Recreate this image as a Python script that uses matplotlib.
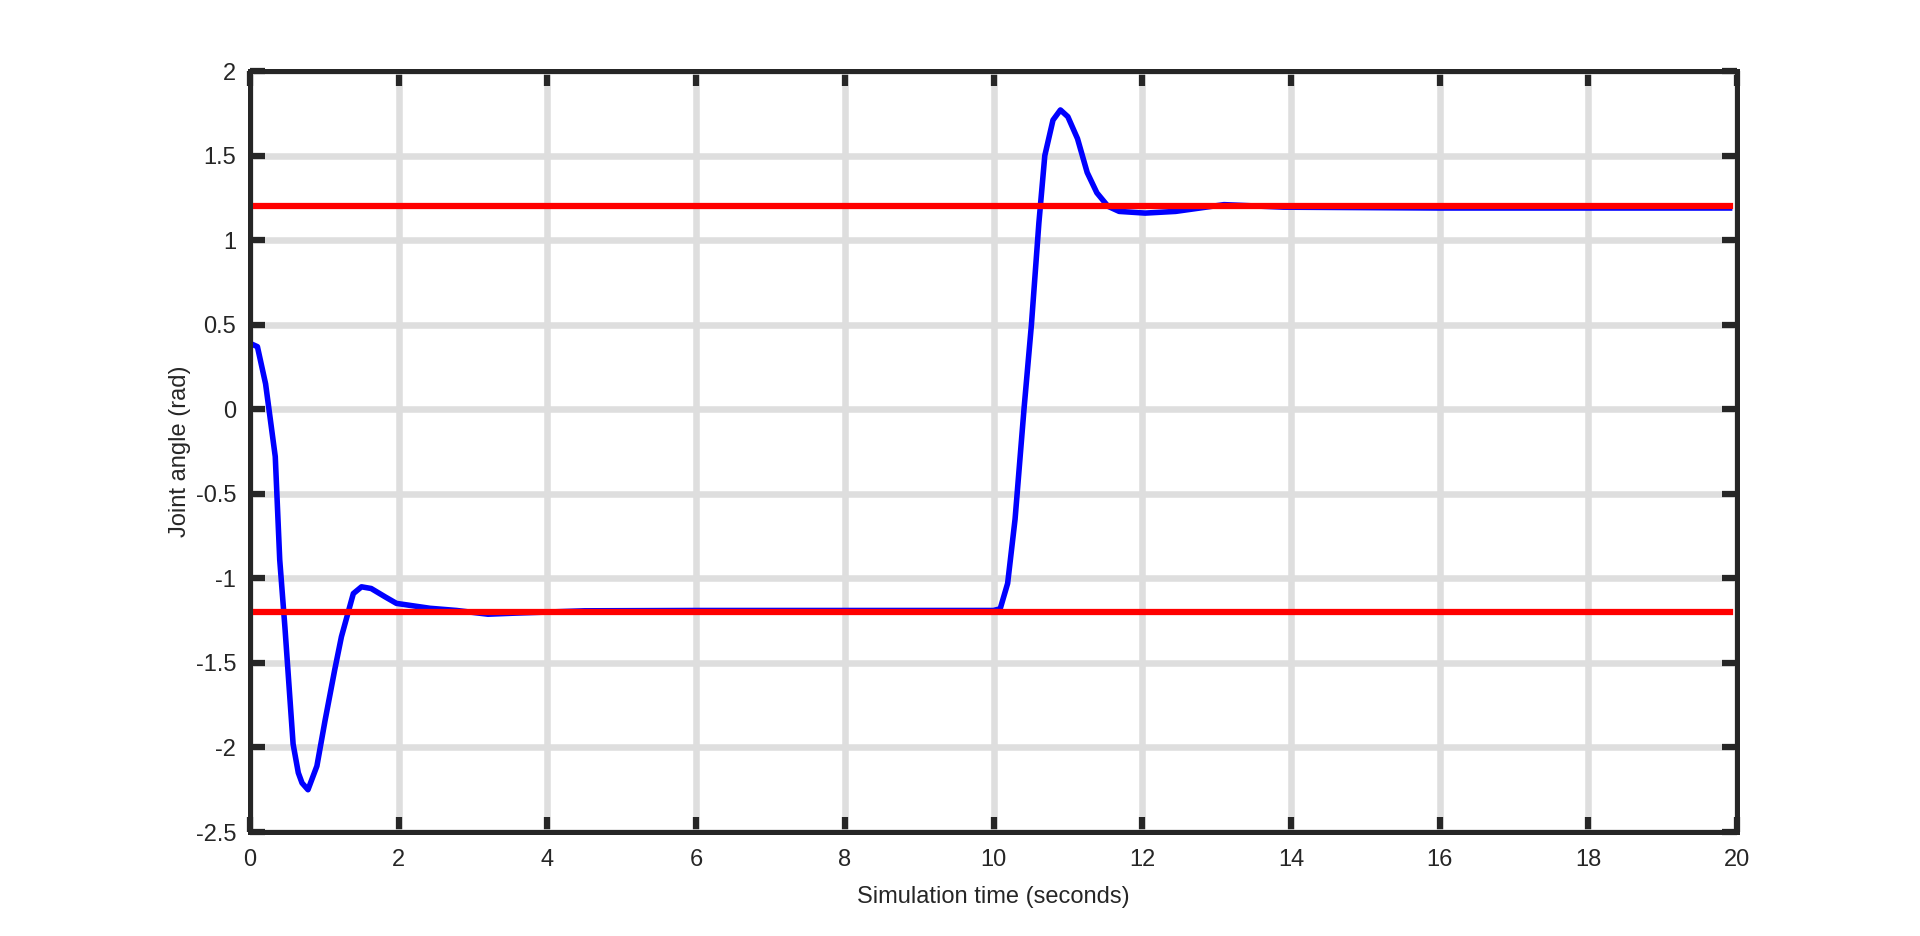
import matplotlib.pyplot as plt

# joint angle trace (seconds, rad)
time_s = [0.0, 0.1, 0.21, 0.34, 0.40, 0.47, 0.58, 0.65, 0.70, 0.78,
          0.90, 1.01, 1.14, 1.23, 1.39, 1.50, 1.63, 1.82, 1.97, 2.42,
          2.78, 3.2, 3.6, 4.5, 6.0, 8.0, 10.0,
          10.09, 10.19, 10.29, 10.41, 10.51, 10.61, 10.69, 10.80, 10.90,
          11.00, 11.13, 11.26, 11.39, 11.54, 11.69, 12.04, 12.45, 13.1,
          13.9, 16.0, 19.9]
angle = [0.39, 0.37, 0.15, -0.28, -0.89, -1.29, -1.98, -2.15, -2.21, -2.25,
         -2.11, -1.84, -1.54, -1.345, -1.09, -1.05, -1.06, -1.11, -1.148, -1.177,
         -1.19, -1.212, -1.205, -1.192, -1.19, -1.19, -1.19,
         -1.18, -1.03, -0.65, 0.0, 0.5, 1.1, 1.5, 1.71, 1.77,
         1.73, 1.6, 1.4, 1.28, 1.2, 1.17, 1.16, 1.17, 1.21,
         1.195, 1.19, 1.19]

# reference set-points
ref_levels = [-1.2, 1.2]
ref_span = [0.0, 19.9]

xticks = [0, 2, 4, 6, 8, 10, 12, 14, 16, 18, 20]
yticks = [-2.5, -2, -1.5, -1, -0.5, 0, 0.5, 1, 1.5, 2]
ytick_labels = ["-2.5", "-2", "-1.5", "-1", "-0.5", "0", "0.5", "1", "1.5", "2"]

plt.rcParams["font.family"] = ["Liberation Sans", "DejaVu Sans"]
dark = "#262626"

fig = plt.figure(figsize=(19.2, 9.36), dpi=100)
ax = fig.add_axes([0.1302, 0.1111, 0.7745, 0.813])

ax.plot(time_s, angle, color="#0000ff", lw=4.0, zorder=2)
for lvl in ref_levels:
    ax.plot(ref_span, [lvl, lvl], color="#ff0000", lw=4.5, zorder=3)

ax.set_xlim(0, 20)
ax.set_ylim(-2.5, 2)
ax.set_xticks(xticks)
ax.set_xticklabels([str(v) for v in xticks])
ax.set_yticks(yticks)
ax.set_yticklabels(ytick_labels)

ax.set_axisbelow(True)
ax.grid(True, color="#dedede", lw=4.7)
for s in ax.spines.values():
    s.set_color(dark)
    s.set_linewidth(3.6)
    s.set_zorder(5)
ax.tick_params(direction="in", length=11, width=4.5, color=dark,
               labelcolor=dark, labelsize=17, top=True, right=True, pad=10)
ax.tick_params(axis="x", pad=12.5)

ax.set_xlabel("Simulation time (seconds)", fontsize=17, color=dark, labelpad=10.5)
ax.set_ylabel("Joint angle (rad)", fontsize=17, color=dark, labelpad=3)

fig.savefig("out.png", dpi=100)
